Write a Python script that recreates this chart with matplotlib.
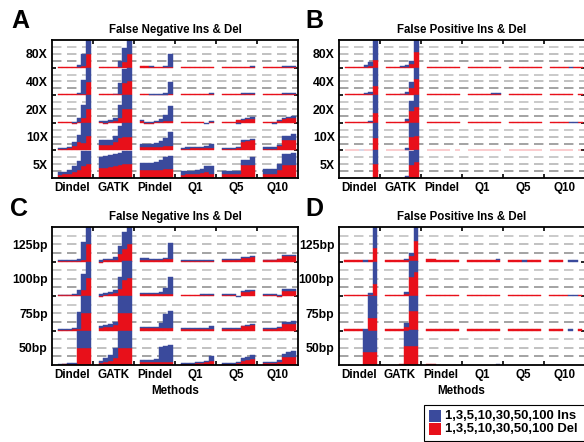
import numpy as np
import matplotlib
matplotlib.use("Agg")
import matplotlib.pyplot as plt
from matplotlib.patches import Rectangle

plt.rcParams['font.family'] = ['Liberation Sans', 'DejaVu Sans']
plt.rcParams['lines.scale_dashes'] = False

METHODS = ["Dindel", "GATK", "Pindel", "Q1", "Q5", "Q10"]
SIZES = [1, 3, 5, 10, 30, 50, 100]
COVERAGE_ROWS = ["80X", "40X", "20X", "10X", "5X"]          # top -> bottom
LENGTH_ROWS = ["125bp", "100bp", "75bp", "50bp"]            # top -> bottom
TITLE_FN = "False Negative Ins & Del"
TITLE_FP = "False Positive Ins & Del"
LEGEND_INS = "1,3,5,10,30,50,100 Ins"
LEGEND_DEL = "1,3,5,10,30,50,100 Del"

# values are fractions of one cell height (values above 1 are cut at the cell top)
# ---- Panel A : false negatives by coverage ----
A_DEL = [
    [[.03,.03,.03,.03,.03,.04,.5], [.03,.03,.03,.03,.03,.22,.5], [.06,.06,.02,.02,.02,.02,.03],
     [.03]*7, [.03]*7, [.03]*7],
    [[.03,.03,.03,.03,.03,.05,.49], [.03,.03,.03,.03,.04,.46,.52], [.06,.06,.02,.02,.02,.02,.03],
     [.03]*7, [.03]*7, [.03]*7],
    [[.03,.03,.03,-.03,.03,.18,.5], [.03,-.04,.03,.06,.18,.5,.5], [.06,-.04,-.04,.02,.03,.05,.05],
     [.03,.03,.03,.03,.03,0,.03], [.03,.03,.03,.1,.11,.13,.13], [.03,.03,.03,.06,.15,.18,.18]],
    [[.04,.05,.1,.17,.29,.27,.51], [.2,.21,.21,.3,.45,.5,.5], [.13,.13,.13,.13,.13,.16,.16],
     [.05,.06,.07,.07,.07,.1,.08], [.05,.05,.05,.1,.32,.35,.37], [.06,.06,.06,.15,.38,.38,.38]],
    [[.1,.13,.16,.22,.3,.42,.52], [.38,.38,.4,.43,.46,.5,.51], [.3,.3,.3,.3,.3,.31,.32],
     [.1,.16,.16,.16,.18,.22,.15], [.13,.15,.15,.15,.46,.46,.46], [.16,.16,.16,.3,.46,.46,.46]],
]
A_INS = [
    [[0,0,0,0,.05,.47,.6], [0,0,0,0,.2,.5,.5], [0,0,.02,0,0,.03,.48],
     [0]*7, [0,0,0,0,0,0,.04], [0,0,0,0,.03,.03,.03]],
    [[0,0,0,0,.05,.5,.6], [0,0,0,.03,.4,.5,.5], [0,0,.02,.02,.02,.05,.45],
     [0,0,0,0,0,0,.04], [0,0,0,0,.04,.04,.04], [0,0,0,0,.04,.04,.04]],
    [[0,0,0,.03,.15,.46,.5], [.05,.08,.08,.12,.48,.5,.5], [.05,.04,.03,.05,.12,.22,.55],
     [0,0,0,0,0,-.06,.05], [0,0,0,-.06,.03,.05,.07], [0,0,-.05,.04,.04,.03,.05]],
    [[.03,.03,.04,.12,.28,.73,.5], [.16,.16,.18,.22,.45,.5,.5], [.09,.1,.11,.13,.2,.3,.5],
     [.04,.05,.05,.06,.06,.07,.14], [.02,.02,.02,.04,.05,.04,.05], [.05,.05,.05,.05,.14,.15,.2]],
    [[.1,.1,.12,.22,.3,.55,.45], [.38,.4,.42,.43,.44,.48,.47], [.24,.25,.26,.28,.36,.44,.47],
     [.15,.1,.1,.12,.16,.2,.3], [.12,.1,.1,.12,.18,.21,.3], [.17,.17,.17,.22,.4,.4,.43]],
]
# ---- Panel B : false positives by coverage ----
B_DEL = [
    [[.03,.03,.03,.03,.03,.05,.28], [.03,.03,.03,.03,.03,.12,.58], [.03]*7,
     [.03]*7, [.03]*7, [.03,.03,.03,.03,0,.03,.03]],
    [[.03,.03,.03,.03,.03,.03,.35], [.03,.03,.03,.03,.06,.27,.57], [.06,.06,.03,.03,.03,.03,.03],
     [.03]*7, [.03]*7, [.03,.03,.03,.03,.03,0,.03]],
    [[.03,.03,.03,.03,.03,.03,.36], [.03,.03,.03,.03,.06,.42,.58], [.03]*7,
     [.03]*7, [.03]*7, [.03,.03,.03,.03,0,0,.03]],
    [[.03,.03,.03,0,.03,.03,.45], [.03,.03,.03,.03,.03,.5,.53], [.03,.03,.03,.03,.03,0,.03],
     [.03]*7, [.03]*7, [.03,.03,.03,.03,.03,0,.03]],
    [[0,0,0,0,0,0,.5], [0,0,0,0,.02,.48,.57], [0]*7, [0]*7, [0]*7, [0]*7],
]
B_INS = [
    [[0,0,0,0,.05,.17,1], [0,0,0,.03,.05,.13,.5], [0]*7, [0]*7, [0]*7, [0,0,0,0,.03,0,0]],
    [[0,0,0,0,.04,.08,1], [0,0,0,.03,.06,.22,.5], [0]*7, [0,0,0,0,0,.05,.05], [0]*7, [0]*7],
    [[0,0,0,0,0,.05,1], [0,0,0,0,.06,.36,.5], [0]*7, [0]*7, [0]*7, [0,0,0,0,.03,.03,0]],
    [[0,0,0,.03,0,0,1], [0,0,0,0,.06,.5,.5], [0]*7, [0]*7, [0]*7, [0]*7],
    [[0,0,0,0,0,0,.5], [0,0,0,0,.05,.5,.5], [0]*7, [0]*7, [0]*7, [0]*7],
]
# ---- Panel C : false negatives by read length ----
C_DEL = [
    [[.02,.02,.02,.02,.02,.04,.51], [-.03,.03,.03,.03,.22,.35,.51], [.05,.05,.04,.04,.04,.06,.08],
     [.02]*7, [.04,.04,.04,.04,.1,.1,.12], [.03,.03,.03,.06,.16,.16,.16]],
    [[.02,.02,.02,.03,.03,.17,.51], [-.04,.04,.06,.1,.2,.47,.51], [.06]*7,
     [.04]*7, [.04,.04,.04,0,.12,.13,.15], [.04,.04,.04,-.04,.15,.15,.15]],
    [[.02,.02,.02,.03,.05,.5,.5], [.08,.09,.1,.15,.51,.51,.51], [.08,.06,.06,.06,.06,.06,.08],
     [.05,.05,.05,.05,.05,.05,.04], [.05,.05,.05,.05,.12,.14,.16], [.05,.05,.05,.07,.19,.19,.19]],
    [[.01,.02,.02,.03,.49,.49,.49], [.07,.1,.13,.19,.5,.5,.5], [.1,.1,.08,.08,.08,.08,.1],
     [.03,.03,.03,.05,.06,.1,.12], [.03,.03,.03,.07,.12,.14,.17], [.05,.05,.05,.1,.22,.22,.24]],
]
C_INS = [
    [[.01,.01,.01,.02,.06,.52,.5], [.05,.04,.05,.1,.24,.5,.5], [.05,.04,.02,.02,.03,.05,.45],
     [.03]*7, [.02,.02,.02,.02,.02,.02,.03], [.02,.02,.02,.02,.03,.03,.03]],
    [[.01,.01,.01,.03,.15,.48,.5], [.06,.04,.05,.07,.34,.53,.49], [.02,.02,.02,.02,.05,.16,.5],
     [0,0,0,0,.03,.03,.03], [.02,.02,.02,-.04,.03,.03,.03], [.02,.02,.02,.02,.05,.05,.05]],
    [[.01,.01,.02,.04,.5,.5,.5], [.05,.06,.1,.1,.5,.5,.5], [.03,.05,.05,.05,.16,.41,.49],
     [.02,.02,.02,.02,.02,.02,.08], [.02,.02,.02,.02,.02,.03,.03], [.02,.02,.02,.03,.05,.05,.09]],
    [[.02,.02,.03,.04,.55,.55,.55], [.04,.1,.16,.29,.5,.5,.5], [.05,.05,.07,.08,.45,.47,.48],
     [.02,.02,.02,.03,.04,.03,.14], [.02,.02,.02,.03,.07,.08,.12], [.03,.03,.03,.05,.1,.15,.17]],
]
# ---- Panel D : false positives by read length ----
D_DEL = [
    [[.03,.03,.03,.03,0,.03,.38], [.03,.03,.03,.03,.03,.15,.58], [.06,.06,.03,.03,.03,.03,.03],
     [.03]*7, [.03,.03,.03,0,.03,.03,.03], [.03,.03,.03,0,0,0,0]],
    [[.03,.03,.03,.03,.03,.03,.34], [.03,.03,.03,.03,.06,.56,.7], [.03]*7,
     [.03]*7, [.03]*7, [.03,.03,.03,.03,0,0,.03]],
    [[.03,.03,.03,.03,0,.36,.36], [.03,.03,.03,.03,.1,.57,.57], [.03]*7,
     [.03]*7, [.03]*7, [.03,.03,.03,0,0,0,.03]],
    [[0,0,0,0,.37,.37,.37], [0,0,0,.03,.55,.56,.56], [.03,.03,0,0,0,0,0],
     [0]*7, [0]*7, [0]*7],
]
D_INS = [
    [[0,0,0,0,.04,0,.7], [0,0,0,0,.05,.1,.5], [0]*7, [0,0,0,0,0,0,.04], [0,0,0,.03,0,0,0],
     [0,0,0,0,.03,.03,0]],
    [[0,0,0,0,0,.05,.7], [0,0,0,0,.05,.5,.5], [0]*7, [0]*7, [0]*7, [0,0,0,0,.03,.03,0]],
    [[0,0,0,0,.04,.7,.7], [0,0,0,0,.12,.5,.5], [0]*7, [0]*7, [0]*7, [0,0,0,0,.03,0,0]],
    [[0,0,0,0,.7,.7,.7], [0,0,0,0,.5,.5,.5], [0]*7, [0,0,0,0,0,0,.03], [0]*7, [0]*7],
]

RED = '#e8101a'
BLUE = '#3a4a9c'
W, H = 584, 442
X0, BW = 0.14, 0.1157

fig = plt.figure(figsize=(W / 100, H / 100), dpi=100)


def add_ax(px_left, px_top, px_w, px_h):
    return fig.add_axes([px_left / W, 1 - (px_top + px_h) / H, px_w / W, px_h / H])


def draw_panel(ax, dels, inss, rows, title, show_methods_label):
    nrows = len(rows)
    ax.set_xlim(0, 6)
    ax.set_ylim(0, nrows)
    # dashed guide lines
    for r in range(nrows):
        for frac, col in ((0.25, '#8a8a8a'), (0.5, '#b0b0b0'), (0.75, '#bcbcbc')):
            ax.axhline(r + frac, color=col, lw=1.1, dashes=(6.8, 4.0), zorder=1)
    for ri in range(nrows):
        base = nrows - 1 - ri
        for m in range(6):
            d = np.array(dels[ri][m], dtype=float)
            s = np.array(inss[ri][m], dtype=float)
            x = m + X0 + BW * (np.arange(len(SIZES)) + 0.5)
            dh = np.minimum(d, 1.0)
            keep = dh != 0
            ax.bar(x[keep], dh[keep], width=BW, bottom=base, color=RED,
                   edgecolor=RED, linewidth=0.3, align='center', zorder=2)
            dpos = np.clip(d, 0, 1)
            sb = np.where(s >= 0, dpos, np.minimum(d, 0))
            sh = np.where(s >= 0, np.minimum(s, 1 - dpos), s)
            keep = sh != 0
            ax.bar(x[keep], sh[keep], width=BW, bottom=base + sb[keep], color=BLUE,
                   edgecolor=BLUE, linewidth=0.3, align='center', zorder=3)
    for sp in ax.spines.values():
        sp.set_linewidth(1.3)
        sp.set_zorder(5)
    ax.set_xticks(range(1, 6))
    ax.set_yticks(range(1, nrows))
    ax.tick_params(which='major', direction='in', length=3, width=1.2,
                   top=True, right=True, labelbottom=False, labelleft=False)
    ax.set_xticks(np.arange(6) + 0.5, minor=True)
    ax.set_xticklabels(METHODS, minor=True, fontsize=8.4, fontweight='bold')
    ax.set_yticks(np.arange(nrows) + 0.5, minor=True)
    ax.set_yticklabels(rows[::-1], minor=True, fontsize=8.8, fontweight='bold')
    ax.tick_params(which='minor', length=0, pad=3)
    ax.set_title(title, fontsize=8.3, fontweight='bold', pad=5)
    if show_methods_label:
        ax.set_xlabel("Methods", fontsize=8.4, fontweight='bold', labelpad=3)


axA = add_ax(52, 40, 246, 138)
axB = add_ax(339, 40, 246, 138)
axC = add_ax(52, 227, 246, 138)
axD = add_ax(338.5, 227, 246, 138)

draw_panel(axA, A_DEL, A_INS, COVERAGE_ROWS, TITLE_FN, False)
draw_panel(axB, B_DEL, B_INS, COVERAGE_ROWS, TITLE_FP, False)
draw_panel(axC, C_DEL, C_INS, LENGTH_ROWS, TITLE_FN, True)
draw_panel(axD, D_DEL, D_INS, LENGTH_ROWS, TITLE_FP, True)

for letter, px, py in (("A", 20, 21.5), ("B", 314, 21.5), ("C", 19, 209), ("D", 314, 209)):
    fig.text(px / W, 1 - py / H, letter, fontsize=18, fontweight='heavy',
             ha='center', va='center')

# legend box
fig.patches.append(Rectangle((424 / W, 1 - 441 / H), 170 / W, 36 / H, transform=fig.transFigure,
                             facecolor='white', edgecolor='black', linewidth=0.8))
for color, label, py in ((BLUE, LEGEND_INS, 416), (RED, LEGEND_DEL, 429)):
    fig.patches.append(Rectangle((429 / W, 1 - (py + 6) / H), 12.5 / W, 12 / H,
                                 transform=fig.transFigure, facecolor=color, edgecolor='none'))
    fig.text(445 / W, 1 - py / H, label, fontsize=9.4, fontweight='bold',
             ha='left', va='center')

fig.savefig("out.png", dpi=100)
